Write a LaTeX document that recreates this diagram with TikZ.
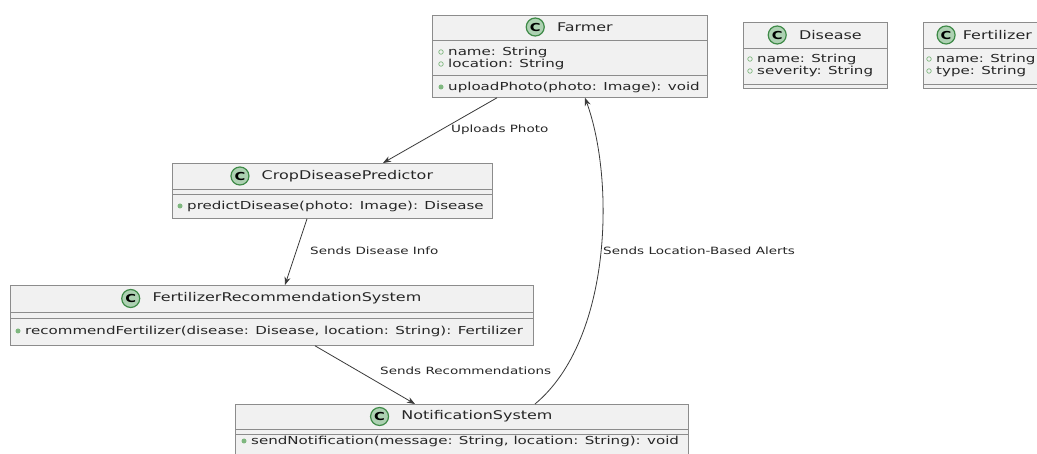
\documentclass[tikz,border=0pt]{standalone}
\usepackage{fontspec}
\setmainfont{DejaVu Sans}[FakeStretch=1.33]
\newfontfamily\memberfont{DejaVu Sans}[FakeStretch=1.37]
\newfontfamily\labelfont{DejaVu Sans}[FakeStretch=1.35]
\usetikzlibrary{calc,arrows.meta,positioning}
\definecolor{boxfill}{HTML}{F1F1F1}
\definecolor{boxline}{HTML}{8C8C8C}
\definecolor{iconfill}{HTML}{ADD1B2}
\definecolor{iconline}{HTML}{3E8A47}
\definecolor{vis}{HTML}{7FB77F}
\definecolor{edge}{HTML}{3A3A3A}
\begin{document}
\begin{tikzpicture}[x=1pt,y=-1pt,
  classbox/.style={draw=boxline, fill=boxfill, line width=0.8pt, inner sep=0, anchor=north west},
  sepline/.style={draw=boxline, line width=0.8pt},
  cicon/.style={circle, draw=iconline, fill=iconfill, line width=1.2pt, minimum size=18pt, inner sep=0, font=\fontsize{11}{11}\selectfont\bfseries},
  title/.style={font=\fontsize{12}{13}\selectfont, inner sep=0, text=black!85},
  member/.style={font=\memberfont\fontsize{11}{12}\selectfont, inner sep=0, anchor=west, text=black!85},
  fieldvis/.style={circle, draw=vis, line width=0.7pt, minimum size=4.5pt, inner sep=0},
  methodvis/.style={circle, fill=vis, minimum size=5pt, inner sep=0},
  rel/.style={draw=edge, line width=0.8pt, -{Stealth[length=8pt,width=6pt]}},
  rlabel/.style={font=\labelfont\fontsize{10}{11}\selectfont, anchor=west, inner sep=0, text=black!85}]
\useasboundingbox[fill=white] (0,0) rectangle (1037,454);

% class boxes
\node[classbox, minimum width=275, minimum height=82] (farmer) at (432,15) {};
\node[classbox, minimum width=144, minimum height=66] (disease) at (743,22) {};
\node[classbox, minimum width=130, minimum height=66] (fert) at (923,22) {};
\node[classbox, minimum width=320, minimum height=55] (crop) at (172,163) {};
\node[classbox, minimum width=523, minimum height=60] (frs) at (10,285) {};
\node[classbox, minimum width=453, minimum height=70] (notif) at (235,404) {};

% compartment separators
\foreach \b/\a/\c in {farmer/25/60, disease/26/62, fert/26/62, crop/26/31, frs/27/33, notif/25/30}{
  \draw[sepline] ($(\b.north west)+(0,\a)$) -- ($(\b.north east)+(0,\a)$);
  \draw[sepline] ($(\b.north west)+(0,\c)$) -- ($(\b.north east)+(0,\c)$);
}

% headers: class icon + name, centred as a group
\node[title] (tfarmer) at ($(farmer.north)+(15,12)$) {Farmer};
\node[cicon, left=12pt of tfarmer] (cfarmer) {C};
\node[title] (tdisease) at ($(disease.north)+(15,13)$) {Disease};
\node[cicon, left=12pt of tdisease] (cdisease) {C};
\node[title] (tfert) at ($(fert.north)+(9,13)$) {Fertilizer};
\node[cicon, left=7pt of tfert] (cfert) {C};
\node[title] (tcrop) at ($(crop.north)+(15,13)$) {CropDiseasePredictor};
\node[cicon, left=12pt of tcrop] (ccrop) {C};
\node[title] (tfrs) at ($(frs.north)+(15,13.5)$) {FertilizerRecommendationSystem};
\node[cicon, left=12pt of tfrs] (cfrs) {C};
\node[title] (tnotif) at ($(notif.north)+(15,12.5)$) {NotificationSystem};
\node[cicon, left=12pt of tnotif] (cnotif) {C};

% members
\node[fieldvis] (vf1) at (441,52) {};
\node[member] (mf1) at (448,52) {name: String};
\node[fieldvis] (vf2) at (441,64) {};
\node[member] (mf2) at (448,64) {location: String};
\node[methodvis] (vf3) at (441,87) {};
\node[member] (mf3) at (448,87) {uploadPhoto(photo: Image): void};

\node[fieldvis] (vd1) at (750,59) {};
\node[member] (md1) at (757,59) {name: String};
\node[fieldvis] (vd2) at (750,71) {};
\node[member] (md2) at (757,71) {severity: String};

\node[fieldvis] (ve1) at (929,59) {};
\node[member] (me1) at (936,59) {name: String};
\node[fieldvis] (ve2) at (929,71) {};
\node[member] (me2) at (936,71) {type: String};

\node[methodvis] (vc1) at (180,206) {};
\node[member] (mc1) at (187,206) {predictDisease(photo: Image): Disease};

\node[methodvis] (vr1) at (18,331) {};
\node[member] (mr1) at (25,331) {recommendFertilizer(disease: Disease, location: String): Fertilizer};

\node[methodvis] (vn1) at (244,441) {};
\node[member] (mn1) at (251,441) {sendNotification(message: String, location: String): void};

% relations
\draw[rel] ($(farmer.south west)+(65,0)$) -- ($(crop.north west)+(211,0)$);
\node[rlabel] (l1) at (451,130) {Uploads Photo};
\draw[rel] ($(crop.south west)+(135,0)$) -- ($(frs.north west)+(275,0)$);
\node[rlabel] (l2) at (310,251) {Sends Disease Info};
\draw[rel] ($(frs.south west)+(305,0)$) -- ($(notif.north west)+(180,0)$);
\node[rlabel] (l3) at (380,371) {Sends Recommendations};
\draw[rel] ($(notif.north west)+(300,0)$) .. controls (612,340) and (615,180) .. ($(farmer.south west)+(153,0)$);
\node[rlabel] (l4) at (603,251) {Sends Location-Based Alerts};
\end{tikzpicture}
\end{document}
